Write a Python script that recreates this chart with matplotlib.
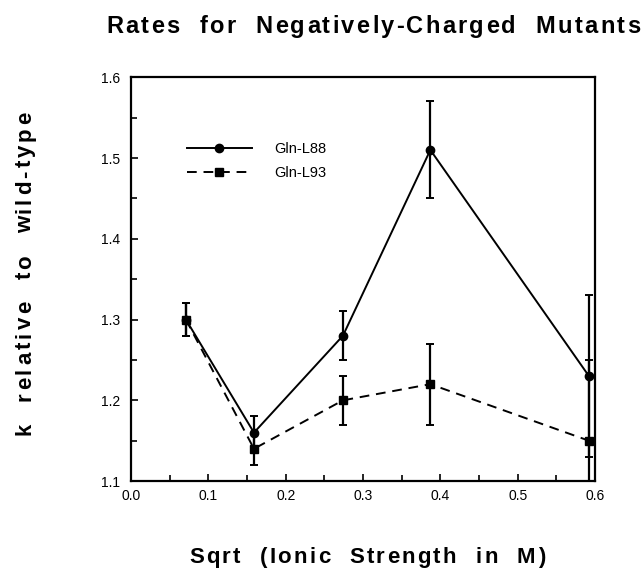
import matplotlib
matplotlib.use("Agg")
import matplotlib.pyplot as plt
from matplotlib.ticker import MultipleLocator, FormatStrFormatter
from matplotlib.container import ErrorbarContainer
from matplotlib.font_manager import FontProperties, findfont
from matplotlib.ft2font import FT2Font

x = [0.071, 0.159, 0.274, 0.387, 0.592]
gln_l88 = [1.30, 1.16, 1.28, 1.51, 1.23]
gln_l88_err = [0.02, 0.02, 0.03, 0.06, 0.10]
gln_l93 = [1.30, 1.14, 1.20, 1.22, 1.15]
gln_l93_err = [0.02, 0.02, 0.03, 0.05, 0.10]
labels = ["Gln-L88", "Gln-L93"]

title = "Rates for Negatively-Charged Mutants"
xlabel = "Sqrt (Ionic Strength in M)"
ylabel = "k relative to wild-type"

plt.rcParams['font.family'] = ['Liberation Sans', 'DejaVu Sans']

W, H, DPI = 642, 568, 100
fig = plt.figure(figsize=(W / DPI, H / DPI), dpi=DPI)
ax = fig.add_axes([0.204, 0.153, 0.723, 0.711])

BOLD = FontProperties(family='Liberation Sans', weight='bold')
_font = FT2Font(findfont(BOLD))


def advances(s, size):
    _font.set_size(size, DPI)
    out = []
    for c in s:
        g = _font.load_char(ord(c))
        out.append(g.linearHoriAdvance / 65536.0)
    return out


def tracked(s, start, end, baseline, size, vertical=False, word_gap=2):
    s = (' ' * word_gap).join(s.split(' '))
    adv = advances(s, size)
    track = (abs(end - start) - sum(adv)) / (len(s) - 1)
    pos = 0.0
    for c, a in zip(s, adv):
        if c != ' ':
            if vertical:
                fig.text(baseline / W, 1 - (start - pos) / H, c, rotation=90,
                         rotation_mode='anchor', ha='left', va='baseline',
                         fontproperties=BOLD, fontsize=size)
            else:
                fig.text((start + pos) / W, 1 - baseline / H, c, ha='left', va='baseline',
                         fontproperties=BOLD, fontsize=size)
        pos += a + track


ax.errorbar(x, gln_l88, yerr=gln_l88_err, color='black', lw=1.4, ls='-',
            marker='o', ms=6, capsize=3, elinewidth=1.6, capthick=1.4,
            label=labels[0])
ax.errorbar(x, gln_l93, yerr=gln_l93_err, color='black', lw=1.4, ls=(0, (5, 3.5)),
            marker='s', ms=6, capsize=3, elinewidth=1.6, capthick=1.4,
            label=labels[1])

ax.set_xlim(0.0, 0.6)
ax.set_ylim(1.1, 1.6)
ax.xaxis.set_major_locator(MultipleLocator(0.1))
ax.xaxis.set_minor_locator(MultipleLocator(0.05))
ax.yaxis.set_major_locator(MultipleLocator(0.1))
ax.yaxis.set_minor_locator(MultipleLocator(0.05))
ax.xaxis.set_major_formatter(FormatStrFormatter('%.1f'))
ax.yaxis.set_major_formatter(FormatStrFormatter('%.1f'))
ax.tick_params(which='both', direction='in', top=False, right=False, labelsize=10, width=1.2)
ax.tick_params(axis='y', which='major', pad=8)
ax.tick_params(axis='x', which='major', pad=6)
ax.tick_params(which='major', length=5)
ax.tick_params(which='minor', length=4)
for s in ax.spines.values():
    s.set_linewidth(1.6)

handles, labs = ax.get_legend_handles_labels()
handles = [h[0] if isinstance(h, ErrorbarContainer) else h for h in handles]
ax.legend(handles, labs, loc='upper left', bbox_to_anchor=(0.12, 0.84), frameon=False,
          fontsize=10.5, handlelength=4.45, handletextpad=1.55, labelspacing=0.7,
          numpoints=1, borderpad=0, borderaxespad=0)

tracked(title, 106, 640, 33, 17)
tracked(xlabel, 189, 545, 563, 16)
tracked(ylabel, 435, 112, 31, 16, vertical=True)

fig.savefig("out.png", dpi=DPI)
